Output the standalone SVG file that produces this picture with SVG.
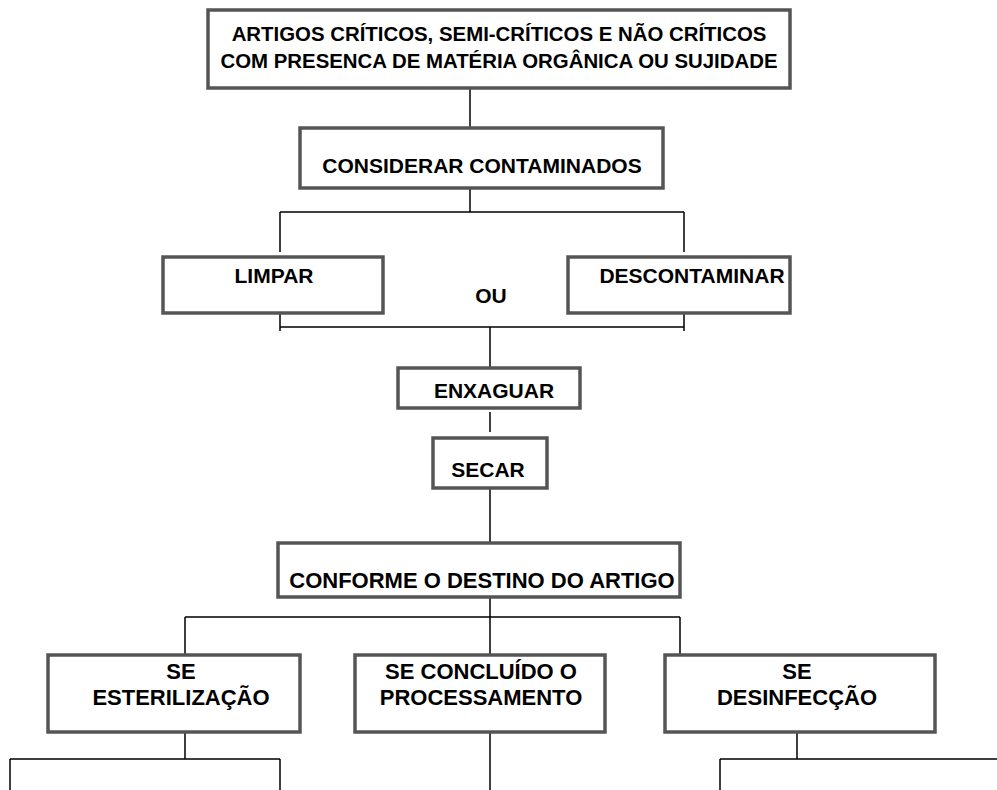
<svg xmlns="http://www.w3.org/2000/svg" width="997" height="790" viewBox="0 0 997 790">
<style>
.box{fill:#fff;stroke:#555;stroke-width:3.5}
.t{font-family:"Liberation Sans",Arial,sans-serif;font-weight:bold;font-size:21px;fill:#000;text-anchor:middle}
.s20{font-size:20.4px}
.s22{font-size:22px}
.c{fill:none;stroke:#000;stroke-width:1.5}
</style>
<rect width="997" height="790" fill="#fff"/>
<g id="connectors">
<path class="c" d="M470 88V128"/>
<path class="c" d="M470 188V212M280 212H684M280 212V252M684 212V252"/>
<path class="c" d="M280 313V331M684 313V331M280 327H684M490 327V368"/>
<path class="c" d="M490 412V432"/>
<path class="c" d="M490 488V545"/>
<path class="c" d="M490 597V655M185 617H680M185 617V655M680 617V655"/>
<path class="c" d="M185 732V759M10 759H280M10 759V790M280 759V790"/>
<path class="c" d="M490 732V790"/>
<path class="c" d="M797 732V759M720 759H997M720 759V790"/>
</g>
<g id="n1"><rect class="box" x="208" y="10" width="582" height="78"/>
<text class="t s20" x="499" y="41">ARTIGOS CRÍTICOS, SEMI-CRÍTICOS E NÃO CRÍTICOS</text>
<text class="t s20" x="499" y="68">COM PRESENCA DE MATÉRIA ORGÂNICA OU SUJIDADE</text></g>
<g id="n2"><rect class="box" x="300" y="128" width="363" height="60"/>
<text class="t" x="482" y="173">CONSIDERAR CONTAMINADOS</text></g>
<g id="n3"><rect class="box" x="163" y="257" width="220" height="56"/>
<text class="t" x="274" y="283">LIMPAR</text></g>
<g id="ou"><text class="t" x="491" y="303">OU</text></g>
<g id="n4"><rect class="box" x="568" y="257" width="222" height="56"/>
<text class="t" x="692" y="283">DESCONTAMINAR</text></g>
<g id="n5"><rect class="box" x="398" y="368" width="182" height="40"/>
<text class="t" x="494" y="398">ENXAGUAR</text></g>
<g id="n6"><rect class="box" x="433" y="438" width="114" height="50"/>
<text class="t" x="488" y="477">SECAR</text></g>
<g id="n7"><rect class="box" x="278" y="543" width="402" height="54"/>
<text class="t s22" x="482" y="588">CONFORME O DESTINO DO ARTIGO</text></g>
<g id="n8"><rect class="box" x="48" y="655" width="252" height="77"/>
<text class="t s22" x="181" y="679">SE</text>
<text class="t s22" x="181" y="705">ESTERILIZAÇÃO</text></g>
<g id="n9"><rect class="box" x="355" y="655" width="250" height="77"/>
<text class="t s22" x="481" y="679">SE CONCLUÍDO O</text>
<text class="t s22" x="481" y="705">PROCESSAMENTO</text></g>
<g id="n10"><rect class="box" x="665" y="655" width="270" height="77"/>
<text class="t s22" x="797" y="679">SE</text>
<text class="t s22" x="797" y="705">DESINFECÇÃO</text></g>
</svg>
